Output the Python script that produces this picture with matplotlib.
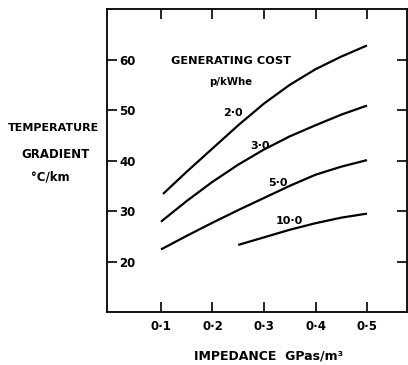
import matplotlib
matplotlib.use("Agg")
import matplotlib.pyplot as plt

# curves (impedance GPa s/m^3, gradient degC/km)
x_20 = [0.104, 0.15, 0.2, 0.25, 0.3, 0.35, 0.4, 0.45, 0.5]
y_20 = [33.4, 37.8, 42.4, 47.0, 51.3, 55.0, 58.1, 60.6, 62.8]
x_30 = [0.1, 0.15, 0.2, 0.25, 0.3, 0.35, 0.4, 0.45, 0.5]
y_30 = [27.9, 32.0, 35.8, 39.2, 42.2, 44.8, 47.0, 49.1, 50.9]
x_50 = [0.1, 0.15, 0.2, 0.25, 0.3, 0.35, 0.4, 0.45, 0.5]
y_50 = [22.4, 25.1, 27.7, 30.2, 32.6, 35.0, 37.2, 38.8, 40.1]
x_100 = [0.25, 0.3, 0.35, 0.4, 0.45, 0.5]
y_100 = [23.3, 24.8, 26.3, 27.6, 28.7, 29.5]

curve_labels = ["2·0", "3·0", "5·0", "10·0"]
label_pos = [(0.239, 49.4), (0.292, 42.9), (0.327, 35.5), (0.349, 28.0)]

xticks = [0.1, 0.2, 0.3, 0.4, 0.5]
xticklabels = ["0·1", "0·2", "0·3", "0·4", "0·5"]
yticks = [20, 30, 40, 50, 60]

plt.rcParams["font.family"] = ["DejaVu Sans"]
plt.rcParams["font.weight"] = "bold"

fig = plt.figure(figsize=(4.08, 3.65), dpi=100)
ax = fig.add_axes([0.262, 0.145, 0.736, 0.830])

for xs, ys in [(x_20, y_20), (x_30, y_30), (x_50, y_50), (x_100, y_100)]:
    ax.plot(xs, ys, color="black", linewidth=1.6, solid_capstyle="butt",
            solid_joinstyle="round")

for txt, (tx, ty) in zip(curve_labels, label_pos):
    ax.text(tx, ty, txt, fontsize=8, fontweight="bold", ha="center", va="center")

ax.text(0.235, 59.8, "GENERATING COST", fontsize=8.2, fontweight="bold",
        ha="center", va="center")
ax.text(0.235, 55.6, "p/kWhe", fontsize=7.3, fontweight="bold",
        ha="center", va="center")

ax.set_xlim(-0.005, 0.578)
ax.set_ylim(10, 70)
ax.set_xticks(xticks)
ax.set_xticklabels(xticklabels)
ax.set_yticks(yticks)

ax.tick_params(axis="both", direction="in", length=7, width=1.2,
               labelsize=8.5, top=True, right=True)
ax.tick_params(axis="y", pad=-9)
ax.tick_params(axis="x", pad=6)
plt.setp(ax.get_yticklabels(), ha="left", fontweight="bold")
plt.setp(ax.get_xticklabels(), fontweight="bold")
for s in ax.spines.values():
    s.set_linewidth(1.3)

fig.text(53 / 408, 1 - 128 / 365, "TEMPERATURE", fontsize=8, fontweight="bold",
         ha="center", va="center")
fig.text(55 / 408, 1 - 154 / 365, "GRADIENT", fontsize=8.5, fontweight="bold",
         ha="center", va="center")
fig.text(50 / 408, 1 - 177 / 365, "°C/km", fontsize=8.5, fontweight="bold",
         ha="center", va="center")
fig.text(269 / 408, 1 - 356 / 365, "IMPEDANCE  GPas/m³", fontsize=9,
         fontweight="bold", ha="center", va="center")

fig.savefig("out.png", dpi=100)
